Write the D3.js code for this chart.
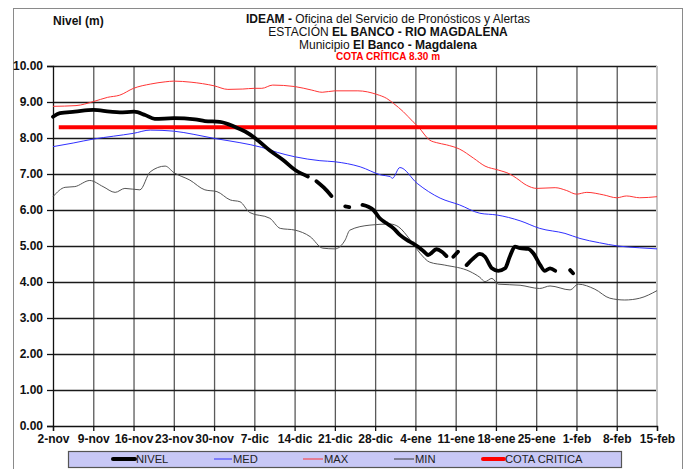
<!DOCTYPE html>
<html><head><meta charset="utf-8">
<script src="https://cdn.jsdelivr.net/npm/d3@7/dist/d3.min.js"></script>
<style>
body{margin:0;background:#fff}
svg{display:block;font-family:Arial,"Liberation Sans",sans-serif}
</style>
</head><body>
<svg id="c" width="689" height="469"></svg>
<script>
// ---- DATA (days since 2-nov) ----
const tickLabels = ["2-nov","9-nov","16-nov","23-nov","30-nov","7-dic","14-dic","21-dic","28-dic","4-ene","11-ene","18-ene","25-ene","1-feb","8-feb","15-feb"];
const yTicks = [0,1,2,3,4,5,6,7,8,9,10];

const nivelDays = [0,1.2,3.8,7,9.9,11.6,14.1,16,17.7,21,24.7,26.4,29,31.6,33.4,35.1,37.7,40,42.1,44.3,45,45.8,47.1,48.4,49.5,50.8,51.5,52.5,53.8,54.8,55.7,56.8,58,59.2,60.3,61.5,62.6,63.8,64.7,65.2,66.7,67.6,68.4,69,69.6,70.4,71,71.9,73.1,74.2,75.1,76.3,77.4,78.6,79.4,80.3,81.2,82.6,83.5,84.7,85.5,86.4,87.3,88.5,89.9,90.4];
const nivelVals = [8.59,8.69,8.73,8.78,8.73,8.71,8.73,8.64,8.53,8.55,8.52,8.47,8.45,8.31,8.18,8.0,7.65,7.39,7.11,6.93,null,6.80,6.62,6.39,null,6.10,6.08,null,6.14,6.09,6.00,5.77,5.63,5.49,5.31,5.17,5.07,4.94,4.81,4.75,4.91,4.84,4.72,null,4.70,4.84,null,4.47,4.66,4.78,4.70,4.38,4.31,4.38,4.70,4.98,4.94,4.92,4.80,4.47,4.31,4.38,4.31,null,4.33,4.24];

const medDays = [0,3.5,7,10.5,14,16.9,21,24.5,28,32.5,36.3,39,42,46.4,49,53.4,57.1,58.6,59.0,60.3,63.3,67.3,70.7,74.2,77.2,81.2,84.6,89,91.6,95,98.2,102,105];
const medVals = [7.76,7.86,7.97,8.05,8.13,8.22,8.19,8.10,7.99,7.87,7.74,7.60,7.48,7.37,7.34,7.20,6.97,6.93,6.88,7.18,6.74,6.33,6.14,5.91,5.86,5.70,5.49,5.35,5.21,5.09,5.00,4.95,4.92];

const maxDays = [0,4,7,9.5,11.6,14,17,19.5,21,24,28,30.4,33,35,36.3,38.2,42,45,46.8,49,53,56.3,58,59.2,60.9,62.6,63.5,65.5,66.7,68.4,70.7,73.1,75.1,77.4,79.4,80.6,82.3,84.1,87.3,89.3,91,92.8,95.7,98,99.7,102,105];
const maxVals = [8.88,8.90,9.01,9.13,9.19,9.38,9.50,9.56,9.58,9.55,9.45,9.35,9.36,9.38,9.38,9.47,9.43,9.33,9.27,9.31,9.31,9.21,9.10,8.96,8.73,8.45,8.31,7.94,7.87,7.81,7.69,7.44,7.22,7.11,7.00,6.88,6.69,6.60,6.62,6.54,6.44,6.49,6.42,6.34,6.39,6.34,6.37];

const minDays = [0,2.1,3.8,6.4,8.7,10.8,12.5,15.1,16.9,19.5,21,23.8,26.4,28.5,30.8,32.5,34.2,37.7,39.5,42.1,44.7,46.9,49,50.8,51.6,55.1,58.6,60,62.1,63.8,65.5,68.1,72.5,74.2,75.1,76.3,77.4,81.2,84.6,86.4,89.9,91.3,94.2,96.8,99.4,102,105];
const minVals = [6.37,6.63,6.65,6.82,6.65,6.49,6.60,6.56,7.06,7.22,7.04,6.83,6.56,6.51,6.28,6.23,5.93,5.77,5.49,5.44,5.26,4.94,4.92,5.17,5.44,5.58,5.61,5.54,5.17,4.80,4.55,4.47,4.29,4.13,4.01,4.10,3.94,3.91,3.82,3.89,3.78,3.94,3.80,3.55,3.50,3.55,3.76];

const cotaDays = [1,105];
const cotaVals = [8.30,8.30];

const legendNames = ["NIVEL","MED","MAX","MIN","COTA CRITICA"];

// ---- CHART ----
const svg = d3.select("#c");
const x = d3.scaleLinear().domain([0,105]).range([53,657]);
const y = d3.scaleLinear().domain([0,10]).range([426,66]);

// outer frame
svg.append("rect").attr("x",13.5).attr("y",8.5).attr("width",669).attr("height",480)
  .attr("fill","none").attr("stroke","#8a8a8a").attr("stroke-width",1);

// vertical grid
const xTickVals = d3.range(0,106,7);
svg.append("g").attr("transform","translate(0,426)")
  .call(d3.axisBottom(x).tickValues(xTickVals.slice(1,-1)).tickSize(-360).tickFormat(""))
  .call(g=>g.select(".domain").remove())
  .call(g=>g.selectAll("line").attr("stroke","#5a5a5a").attr("stroke-width",1.3));

// horizontal grid
svg.append("g").attr("transform","translate(53,0)")
  .call(d3.axisLeft(y).tickValues(yTicks.slice(1)).tickSize(-604).tickFormat(""))
  .call(g=>g.select(".domain").remove())
  .call(g=>g.selectAll("line").attr("stroke","#1a1a1a").attr("stroke-width",1.3));

// right border of plot
svg.append("line").attr("x1",x(105)).attr("x2",x(105)).attr("y1",y(10)).attr("y2",y(0))
  .attr("stroke","#c4c4c4").attr("stroke-width",2);

// y axis
svg.append("g").attr("transform","translate(53,0)")
  .call(d3.axisLeft(y).tickValues(yTicks).tickSize(6).tickPadding(4).tickFormat(d3.format(".2f")))
  .call(g=>g.select(".domain").attr("stroke","#111").attr("stroke-width",1.3))
  .call(g=>g.selectAll("line").attr("stroke","#111").attr("stroke-width",1.3))
  .call(g=>g.selectAll("text").attr("font-size",12).attr("font-weight","bold").attr("fill","#111"));

// x axis
svg.append("g").attr("transform","translate(0,426)")
  .call(d3.axisBottom(x).tickValues(xTickVals).tickSize(5).tickPadding(3).tickFormat((d,i)=>tickLabels[i]))
  .call(g=>g.select(".domain").attr("stroke","#111").attr("stroke-width",1.3))
  .call(g=>g.selectAll("line").attr("stroke","#111").attr("stroke-width",1.3))
  .call(g=>g.selectAll("text").attr("font-size",12).attr("font-weight","bold").attr("fill","#111"));

function series(days, vals){ return days.map((d,i)=>({d, v: vals[i]})); }
const line = d3.line().defined(p=>p.v!=null).x(p=>x(p.d)).y(p=>y(p.v)).curve(d3.curveMonotoneX);

svg.append("path").datum(series(minDays,minVals)).attr("d",line)
  .attr("fill","none").attr("stroke","#555").attr("stroke-width",1);
svg.append("path").datum(series(medDays,medVals)).attr("d",line)
  .attr("fill","none").attr("stroke","#3030ff").attr("stroke-width",1);
svg.append("path").datum(series(maxDays,maxVals)).attr("d",line)
  .attr("fill","none").attr("stroke","#ff3535").attr("stroke-width",1);
svg.append("path").datum(series(cotaDays,cotaVals)).attr("d",d3.line().x(p=>x(p.d)).y(p=>y(p.v)))
  .attr("fill","none").attr("stroke","#ff0000").attr("stroke-width",4);
svg.append("path").datum(series(nivelDays,nivelVals)).attr("d",line)
  .attr("fill","none").attr("stroke","#000").attr("stroke-width",3.8)
  .attr("stroke-linejoin","round").attr("stroke-linecap","round");

// titles
svg.append("text").attr("x",53).attr("y",25).attr("font-size",12).attr("font-weight","bold")
  .attr("fill","#111").text("Nivel (m)");
const t = svg.append("g").attr("text-anchor","middle").attr("fill","#111").attr("font-size",12);
const l1 = t.append("text").attr("x",388).attr("y",23);
l1.append("tspan").attr("font-weight","bold").text("IDEAM - ");
l1.append("tspan").text("Oficina  del Servicio de Pronósticos y Alertas");
const l2 = t.append("text").attr("x",388).attr("y",36);
l2.append("tspan").text("ESTACIÓN ");
l2.append("tspan").attr("font-weight","bold").text("EL BANCO - RIO MAGDALENA");
const l3 = t.append("text").attr("x",388).attr("y",49);
l3.append("tspan").text("Municipio ");
l3.append("tspan").attr("font-weight","bold").text("El Banco - Magdalena");
t.append("text").attr("x",388).attr("y",60).attr("font-size",10).attr("font-weight","bold")
  .attr("fill","#ff0000").text("COTA CRÍTICA 8.30 m");

// legend
svg.append("rect").attr("x",68.5).attr("y",451.5).attr("width",553).attr("height",16)
  .attr("fill","#c8c8f6").attr("stroke","#555").attr("stroke-width",1.2);
const legStyles = [
  {x0:113,x1:135,c:"#000",w:4},
  {x0:214,x1:232,c:"#3030ff",w:1},
  {x0:303,x1:323,c:"#ff3535",w:1},
  {x0:394,x1:414,c:"#333",w:1},
  {x0:483,x1:504,c:"#ff0000",w:4}
];
legendNames.forEach((n,i)=>{
  const s = legStyles[i];
  svg.append("line").attr("x1",s.x0).attr("x2",s.x1).attr("y1",459).attr("y2",459)
    .attr("stroke",s.c).attr("stroke-width",s.w).attr("stroke-linecap",s.w>2?"round":"butt");
  svg.append("text").attr("x",s.x1+1).attr("y",463).attr("font-size",11.2).attr("fill","#222").text(n);
});
</script>
</body></html>
